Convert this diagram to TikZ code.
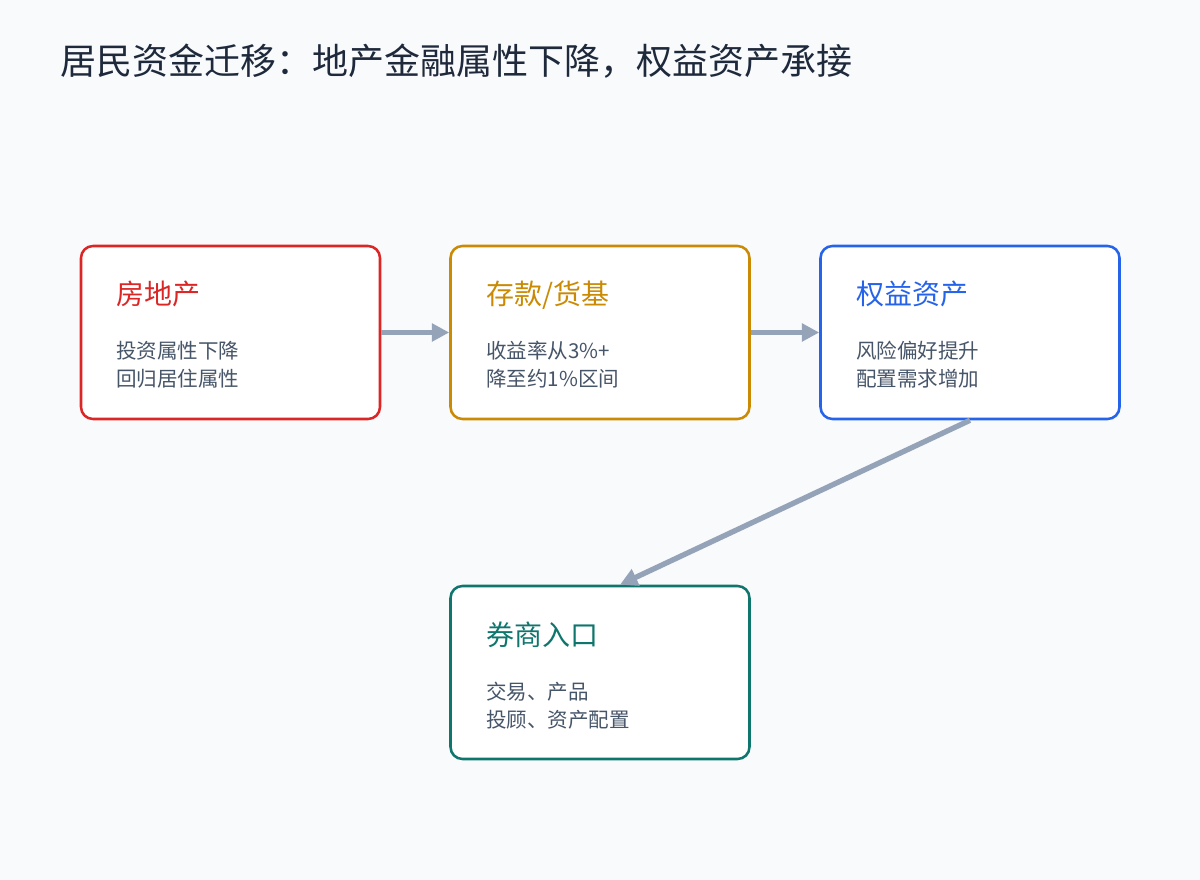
\documentclass[tikz,border=0pt]{standalone}
\usepackage{fontspec}
\setmainfont{Noto Sans CJK SC}
\usetikzlibrary{arrows.meta}
\definecolor{bgc}{HTML}{F8FAFC}
\definecolor{titlec}{HTML}{1E293B}
\definecolor{bodyc}{HTML}{475569}
\definecolor{arrowc}{HTML}{94A3B8}
\definecolor{redc}{HTML}{DC2626}
\definecolor{amberc}{HTML}{CA8A04}
\definecolor{bluec}{HTML}{2563EB}
\definecolor{tealc}{HTML}{0F766E}
\begin{document}
\begin{tikzpicture}[x=0.75pt,y=-0.75pt,
  card/.style={draw, fill=white, line width=1.9pt, rounded corners=9pt,
    minimum width=224.25pt, minimum height=129.75pt, inner sep=0pt},
  cardtitle/.style={anchor=base west, inner sep=0pt, font=\fontsize{21pt}{25pt}\selectfont},
  cardbody/.style={anchor=base west, inner sep=0pt, align=left, text=bodyc,
    font=\fontsize{15.4pt}{21pt}\selectfont},
  flow/.style={draw=arrowc, line width=4pt, -{Triangle[length=13pt,width=13pt]}}]
\fill[bgc] (0,0) rectangle (1200,880);
\useasboundingbox (0,0) rectangle (1200,880);
\node[anchor=base west, inner sep=0pt, text=titlec, font=\fontsize{27pt}{32pt}\selectfont] (title) at (60,75) {居民资金迁移：地产金融属性下降，权益资产承接};

\node[card, draw=redc] (b1) at (230.5,332.5) {};
\node[card, draw=amberc] (b2) at (600,332.5) {};
\node[card, draw=bluec] (b3) at (970,332.5) {};
\node[card, draw=tealc] (b4) at (600,672.5) {};

\node[cardtitle, text=redc] (t1) at (116,305) {房地产};
\node[cardbody] (d1) at (116,387) {投资属性下降\\回归居住属性};
\node[cardtitle, text=amberc] (t2) at (486,305) {存款/货基};
\node[cardbody] (d2) at (486,387) {收益率从3\%+\\降至约1\%区间};
\node[cardtitle, text=bluec] (t3) at (856,305) {权益资产};
\node[cardbody] (d3) at (856,387) {风险偏好提升\\配置需求增加};
\node[cardtitle, text=tealc] (t4) at (486,645) {券商入口};
\node[cardbody] (d4) at (486,727) {交易、产品\\投顾、资产配置};

\draw[flow] (b1.east) -- (b2.west);
\draw[flow] (b2.east) -- (b3.west);
\draw[flow] (b3.south) -- ([xshift=15pt]b4.north);
\end{tikzpicture}
\end{document}
